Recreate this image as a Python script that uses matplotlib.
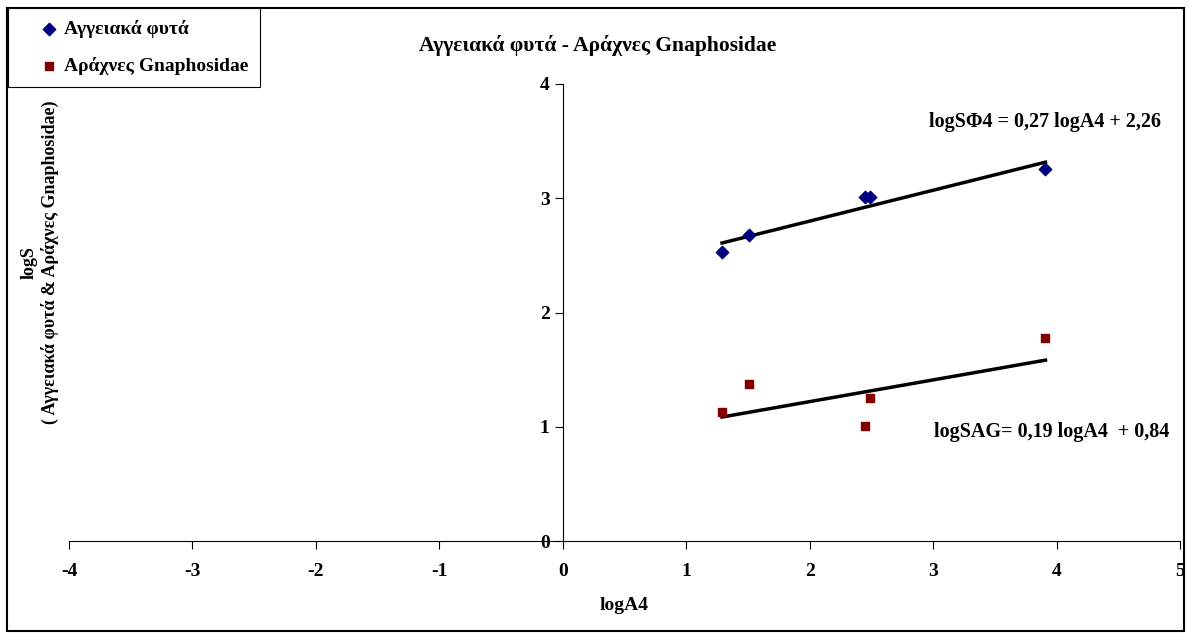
import matplotlib.pyplot as plt
import numpy as np
from matplotlib.patches import Rectangle

# data
logA4 = [1.29, 1.51, 2.45, 2.49, 3.91]
plants = [2.53, 2.68, 3.01, 3.01, 3.26]
spiders = [1.13, 1.37, 1.01, 1.25, 1.78]

# trend line coefficients shown on the chart
plants_fit = (0.27, 2.26)
spiders_fit = (0.19, 0.84)

plt.rcParams['font.family'] = ['Liberation Serif', 'DejaVu Serif']
plt.rcParams['font.weight'] = 'bold'
plt.rcParams['axes.unicode_minus'] = False

fig = plt.figure(figsize=(11.89, 6.34), dpi=100)
ax = fig.add_axes([69 / 1189, 1 - 541 / 634, 1111 / 1189, 457 / 634])

ax.scatter(logA4, plants, marker='D', s=40, color='#000080', label='Αγγειακά φυτά', zorder=3)
ax.scatter(logA4, spiders, marker='s', s=40, color='#800000', label='Αράχνες Gnaphosidae', zorder=3)

xl = np.array([min(logA4), max(logA4)])
ax.plot(xl, plants_fit[0] * xl + plants_fit[1], color='black', lw=2.5)
ax.plot(xl, spiders_fit[0] * xl + spiders_fit[1], color='black', lw=2.5)

ax.set_xlim(-4, 5)
ax.set_ylim(0, 4)
ax.set_xticks(range(-4, 6))
ax.set_yticks(range(0, 5))
ax.spines['left'].set_position(('data', 0))
ax.spines['bottom'].set_position(('data', 0))
ax.spines['top'].set_visible(False)
ax.spines['right'].set_visible(False)
ax.tick_params(labelsize=14, length=6, direction='out')
ax.tick_params(axis='x', pad=10)

ax.set_xlabel('logA4', fontsize=14, fontweight='bold', labelpad=12)
ax.set_ylabel('logS\n( Αγγειακά φυτά & Αράχνες Gnaphosidae)', fontsize=13, fontweight='bold',
              multialignment='center')
ax.yaxis.set_label_coords(-0.009, 0.61)

ax.text(3.91, 3.67, 'logSΦ4 = 0,27 logA4 + 2,26', fontsize=14.5, fontweight='bold', ha='center', va='center')
ax.text(3.96, 0.955, 'logSAG= 0,19 logA4  + 0,84', fontsize=14.5, fontweight='bold', ha='center', va='center')

fig.text(598 / 1189, 1 - 45 / 634, 'Αγγειακά φυτά - Αράχνες Gnaphosidae', fontsize=15.5,
         fontweight='bold', ha='center', va='center')

leg = fig.legend(loc='upper left', bbox_to_anchor=(8 / 1189, 1 - 8 / 634), fancybox=False,
                 edgecolor='black', framealpha=1, fontsize=14, handletextpad=-0.70,
                 borderaxespad=0, labelspacing=1.0, handlelength=2.97, borderpad=0.6)
leg.get_frame().set_linewidth(0.8)

fig.patches.append(Rectangle((0.006, 0.004), 0.99, 0.984, transform=fig.transFigure,
                             fill=False, edgecolor='black', lw=1.5))

fig.savefig('out.png', dpi=100)
